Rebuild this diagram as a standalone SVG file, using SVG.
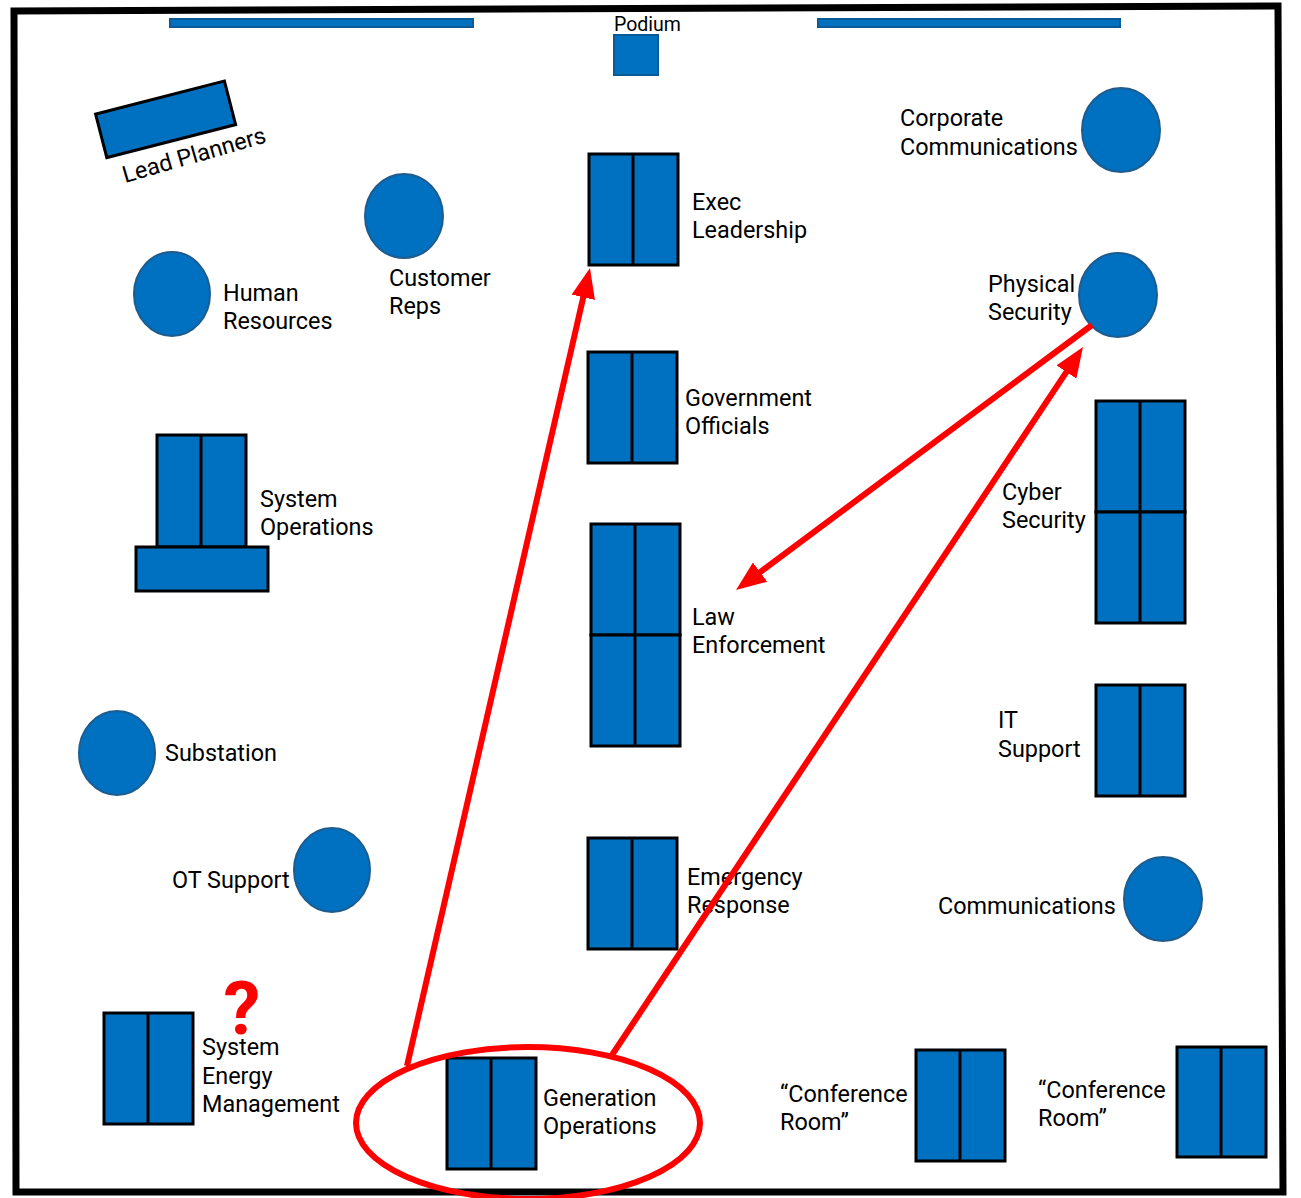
<svg xmlns="http://www.w3.org/2000/svg" width="1301" height="1198" viewBox="0 0 1301 1198">
<style>
.lbl{font-family:Roboto,"Liberation Sans",sans-serif;font-size:23.4px;fill:#000}
.desk{fill:#0070C0;stroke:#000;stroke-width:3}
.div{stroke:#000;stroke-width:3}
.rnd{fill:#0070C0;stroke:#1F5C8E;stroke-width:2}
.bar{fill:#0070C0;stroke:#0B5A94;stroke-width:2}
.red{stroke:#FF0000;stroke-width:6;fill:none}
</style>
<defs>
<marker id="ah" markerUnits="userSpaceOnUse" markerWidth="30" markerHeight="24" refX="2" refY="12" orient="auto">
<path d="M0,0 L30,12 L0,24 z" fill="#FF0000"/>
</marker>
</defs>
<rect width="1301" height="1198" fill="#fff"/>
<path d="M14,11 L1278,6 L1283,1192 L16,1192 Z" fill="none" stroke="#000" stroke-width="7" stroke-linejoin="miter"/>

<g id="stage">
<rect class="bar" x="170" y="19" width="303" height="8"/>
<rect class="bar" x="818" y="19" width="302" height="8"/>
</g>
<g id="podium">
<rect class="bar" x="614" y="35" width="44" height="40"/>
<text class="lbl" x="614" y="31" style="font-size:19.5px">Podium</text>
</g>
<g id="lead-planners">
<rect class="desk" x="-66" y="-22" width="133" height="45" transform="translate(165,119) rotate(-14.4)"/>
<text class="lbl" x="0" y="0" transform="translate(125,183) rotate(-16)">Lead Planners</text>
</g>
<g id="corporate-communications">
<ellipse class="rnd" cx="1121" cy="130" rx="39" ry="42"/>
<text class="lbl" x="900" y="126">Corporate</text>
<text class="lbl" x="900" y="155">Communications</text>
</g>
<g id="customer-reps">
<ellipse class="rnd" cx="404" cy="216" rx="39" ry="42"/>
<text class="lbl" x="389" y="286">Customer</text>
<text class="lbl" x="389" y="314">Reps</text>
</g>
<g id="human-resources">
<ellipse class="rnd" cx="172" cy="294" rx="38" ry="42"/>
<text class="lbl" x="223" y="301">Human</text>
<text class="lbl" x="223" y="329">Resources</text>
</g>
<g id="physical-security">
<ellipse class="rnd" cx="1118" cy="295" rx="39" ry="42"/>
<text class="lbl" x="988" y="292">Physical</text>
<text class="lbl" x="988" y="320">Security</text>
</g>
<g id="substation">
<ellipse class="rnd" cx="117" cy="753" rx="38" ry="42"/>
<text class="lbl" x="165" y="761">Substation</text>
</g>
<g id="ot-support">
<ellipse class="rnd" cx="332" cy="870" rx="38" ry="42"/>
<text class="lbl" x="172" y="888">OT Support</text>
</g>
<g id="communications">
<ellipse class="rnd" cx="1163" cy="899" rx="39" ry="42"/>
<text class="lbl" x="938" y="914">Communications</text>
</g>
<g id="exec-leadership">
<rect class="desk" x="589" y="154" width="89" height="111"/>
<line class="div" x1="633" y1="154" x2="633" y2="265"/>
<text class="lbl" x="692" y="210">Exec</text>
<text class="lbl" x="692" y="238">Leadership</text>
</g>
<g id="government-officials">
<rect class="desk" x="588" y="352" width="89" height="111"/>
<line class="div" x1="632" y1="352" x2="632" y2="463"/>
<text class="lbl" x="685" y="406">Government</text>
<text class="lbl" x="685" y="434">Officials</text>
</g>
<g id="system-operations">
<rect class="desk" x="157" y="435" width="89" height="112"/>
<line class="div" x1="201" y1="435" x2="201" y2="547"/>
<rect class="desk" x="136" y="547" width="132" height="44"/>
<text class="lbl" x="260" y="507">System</text>
<text class="lbl" x="260" y="535">Operations</text>
</g>
<g id="law-enforcement">
<rect class="desk" x="591" y="524" width="89" height="111"/>
<rect class="desk" x="591" y="635" width="89" height="111"/>
<line class="div" x1="635" y1="524" x2="635" y2="746"/>
<text class="lbl" x="692" y="625">Law</text>
<text class="lbl" x="692" y="653">Enforcement</text>
</g>
<g id="cyber-security">
<rect class="desk" x="1096" y="401" width="89" height="111"/>
<rect class="desk" x="1096" y="512" width="89" height="111"/>
<line class="div" x1="1140" y1="401" x2="1140" y2="623"/>
<text class="lbl" x="1002" y="500">Cyber</text>
<text class="lbl" x="1002" y="528">Security</text>
</g>
<g id="it-support">
<rect class="desk" x="1096" y="685" width="89" height="111"/>
<line class="div" x1="1140" y1="685" x2="1140" y2="796"/>
<text class="lbl" x="998" y="728">IT</text>
<text class="lbl" x="998" y="757">Support</text>
</g>
<g id="emergency-response">
<rect class="desk" x="588" y="838" width="89" height="111"/>
<line class="div" x1="632" y1="838" x2="632" y2="949"/>
<text class="lbl" x="687" y="885">Emergency</text>
<text class="lbl" x="687" y="913">Response</text>
</g>
<g id="system-energy-management">
<rect class="desk" x="104" y="1013" width="89" height="111"/>
<line class="div" x1="148" y1="1013" x2="148" y2="1124"/>
<text class="lbl" x="202" y="1055">System</text>
<text class="lbl" x="202" y="1084">Energy</text>
<text class="lbl" x="202" y="1112">Management</text>
<text x="242" y="1034" text-anchor="middle" style="font-family:Roboto,'Liberation Sans',sans-serif;font-weight:bold;font-size:74px;fill:#FF0000">?</text>
</g>
<g id="generation-operations">
<rect class="desk" x="447" y="1058" width="89" height="111"/>
<line class="div" x1="491" y1="1058" x2="491" y2="1169"/>
<text class="lbl" x="543" y="1106">Generation</text>
<text class="lbl" x="543" y="1134">Operations</text>
</g>
<g id="conference-room-1">
<rect class="desk" x="916" y="1050" width="89" height="111"/>
<line class="div" x1="960" y1="1050" x2="960" y2="1161"/>
<text class="lbl" x="780" y="1102">“Conference</text>
<text class="lbl" x="780" y="1130">Room”</text>
</g>
<g id="conference-room-2">
<rect class="desk" x="1177" y="1047" width="89" height="110"/>
<line class="div" x1="1221" y1="1047" x2="1221" y2="1157"/>
<text class="lbl" x="1038" y="1098">“Conference</text>
<text class="lbl" x="1038" y="1126">Room”</text>
</g>

<g id="connectors">
<ellipse class="red" cx="528" cy="1123" rx="172" ry="76" stroke-width="7"/>
<line class="red" x1="407" y1="1066" x2="583.7" y2="295.3" marker-end="url(#ah)"/>
<line class="red" x1="612" y1="1055" x2="1067.5" y2="370.3" marker-end="url(#ah)"/>
<line class="red" x1="1092" y1="325" x2="758.5" y2="573.3" marker-end="url(#ah)"/>
</g>
</svg>
